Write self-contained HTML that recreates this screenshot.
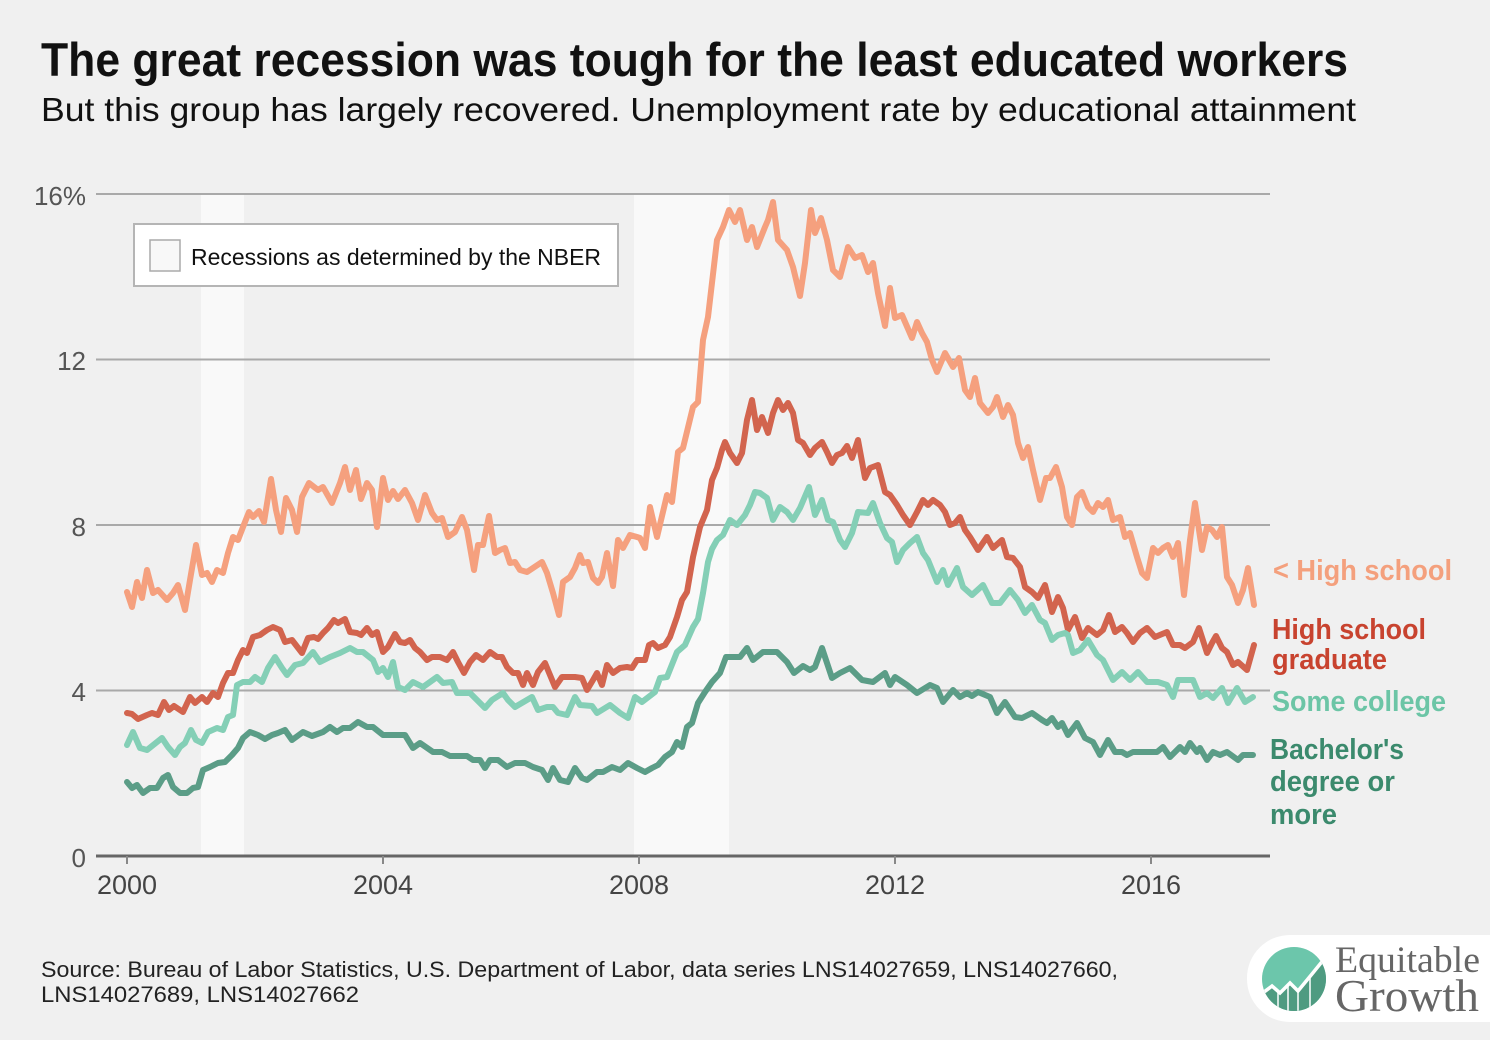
<!DOCTYPE html>
<html><head><meta charset="utf-8"><style>
html,body{margin:0;padding:0;background:#f0f0f0;}
svg{display:block;font-family:"Liberation Sans",sans-serif;}
</style></head><body>
<svg width="1490" height="1040" viewBox="0 0 1490 1040" xmlns="http://www.w3.org/2000/svg">
<rect width="1490" height="1040" fill="#f0f0f0"/>
<text x="41" y="76" font-size="47" font-weight="bold" fill="#111" textLength="1307" lengthAdjust="spacingAndGlyphs">The great recession was tough for the least educated workers</text>
<text x="41" y="121" font-size="33" fill="#111" textLength="1315" lengthAdjust="spacingAndGlyphs">But this group has largely recovered. Unemployment rate by educational attainment</text>
<!-- recession bands -->
<rect x="201" y="194" width="43" height="662" fill="#f9f9f9"/>
<rect x="634" y="194" width="95" height="662" fill="#f9f9f9"/>
<!-- gridlines -->
<g stroke="#a9a9a9" stroke-width="2">
<line x1="96" y1="194" x2="1270" y2="194"/>
<line x1="96" y1="359.5" x2="1270" y2="359.5"/>
<line x1="96" y1="525" x2="1270" y2="525"/>
<line x1="96" y1="690.5" x2="1270" y2="690.5"/>
</g>
<line x1="96" y1="856" x2="1270" y2="856" stroke="#666" stroke-width="3"/>
<g stroke="#888" stroke-width="2">
<line x1="127" y1="856" x2="127" y2="864"/>
<line x1="383" y1="856" x2="383" y2="864"/>
<line x1="639" y1="856" x2="639" y2="864"/>
<line x1="895" y1="856" x2="895" y2="864"/>
<line x1="1151" y1="856" x2="1151" y2="864"/>
</g>
<g font-size="26" fill="#555" text-anchor="end">
<text x="86" y="205">16%</text>
<text x="86" y="370">12</text>
<text x="86" y="536">8</text>
<text x="86" y="701">4</text>
<text x="86" y="867">0</text>
</g>
<g font-size="27" fill="#444" text-anchor="middle">
<text x="127" y="894">2000</text>
<text x="383" y="894">2004</text>
<text x="639" y="894">2008</text>
<text x="895" y="894">2012</text>
<text x="1151" y="894">2016</text>
</g>
<!-- legend -->
<rect x="134" y="224" width="484" height="62" fill="#fff" stroke="#b5b5b5" stroke-width="2"/>
<rect x="150" y="240" width="30" height="31" fill="#f8f8f8" stroke="#aaa" stroke-width="1.5"/>
<text x="191" y="265" font-size="23" fill="#111" textLength="410" lengthAdjust="spacingAndGlyphs">Recessions as determined by the NBER</text>
<!-- series -->
<g fill="none" stroke-width="6" stroke-linejoin="round" stroke-linecap="round">
<polyline stroke="#f5a07e" points="127,592 132,607 137,582 142,598 147,570 153,593 158,590 167,600 173,593 178,585 185,610 190,580 196,545 202,575 207,573 212,582 217,570 223,573 228,553 233,537 238,540 243,527 249,512 253,517 259,511 264,522 271,479 276,510 281,532 286,498 292,510 297,532 302,497 309,483 318,490 323,487 332,503 340,483 345,467 350,490 356,470 361,499 367,483 372,490 377,527 383,478 388,500 393,491 398,499 405,490 412,503 418,520 425,495 432,513 437,520 442,518 448,537 455,532 462,517 467,530 474,570 478,545 483,545 489,516 495,553 500,550 505,548 510,563 515,562 520,570 527,572 542,562 547,573 553,593 559,615 563,582 570,577 575,568 580,555 583,563 588,562 593,578 598,583 602,577 607,553 613,586 618,540 623,548 630,535 637,537 640,538 645,548 650,507 657,537 667,495 672,502 678,452 683,448 693,407 698,402 703,340 708,317 717,240 723,227 729,210 735,222 740,210 747,240 752,227 757,247 765,227 768,220 773,202 778,240 787,250 793,267 800,296 805,263 811,210 815,233 821,218 827,240 833,270 840,277 848,247 855,258 862,255 868,272 873,263 878,293 885,326 890,288 895,318 902,315 912,338 917,322 922,333 927,342 932,360 937,372 945,353 953,367 959,358 965,390 970,397 975,378 980,403 988,413 993,407 997,397 1003,417 1008,405 1013,415 1018,443 1023,458 1028,447 1033,470 1040,500 1046,478 1050,478 1056,467 1062,487 1067,517 1072,525 1077,497 1082,492 1088,507 1093,512 1098,503 1103,507 1108,500 1113,520 1120,517 1125,537 1130,533 1137,557 1142,573 1147,578 1153,548 1158,553 1163,548 1168,545 1173,557 1178,543 1184,595 1190,540 1195,503 1202,550 1207,527 1212,530 1217,537 1222,527 1227,577 1232,585 1238,603 1243,590 1248,568 1254,605"/>
<polyline stroke="#d2644e" points="127,713 132,714 138,719 147,715 152,713 158,715 164,702 169,710 174,706 183,712 190,697 195,703 202,697 207,702 213,693 218,697 223,683 228,673 233,673 238,660 243,650 247,653 253,637 260,635 267,630 273,627 280,630 285,642 292,640 302,653 308,638 314,637 318,639 323,633 328,628 334,620 338,623 345,619 350,632 357,633 361,635 367,628 372,635 377,632 383,652 388,647 395,634 400,642 405,643 410,640 415,648 420,652 427,660 432,657 440,657 447,660 453,652 458,662 464,673 470,662 476,655 483,660 490,652 497,657 502,657 507,667 513,673 518,673 523,685 527,673 533,685 538,672 545,663 550,675 555,687 562,677 575,677 582,678 587,690 593,680 597,673 602,685 607,665 613,673 620,668 627,667 632,668 637,660 645,660 649,645 653,643 658,648 665,645 670,637 677,617 682,600 687,592 693,557 700,527 707,510 712,480 717,468 722,450 725,442 730,453 737,463 742,453 747,420 752,400 757,430 762,417 768,433 773,413 778,400 783,410 788,403 793,413 798,440 803,443 810,455 815,448 822,442 827,452 832,463 837,455 842,453 847,446 852,458 858,440 865,478 870,468 878,465 885,492 890,495 897,505 903,515 910,525 917,512 923,500 928,505 933,500 940,505 945,512 950,525 955,523 960,517 965,530 970,537 978,550 987,537 993,548 1002,540 1007,557 1013,558 1020,567 1025,587 1032,592 1038,598 1045,585 1052,612 1058,597 1063,608 1068,630 1075,617 1082,638 1088,628 1097,635 1103,630 1109,615 1115,632 1122,627 1127,633 1133,642 1140,633 1147,628 1155,637 1167,632 1173,645 1180,645 1185,648 1193,642 1199,628 1207,653 1212,643 1216,636 1222,648 1227,652 1233,665 1238,662 1247,670 1254,645"/>
<polyline stroke="#84cfb6" points="127,745 133,732 140,748 147,750 162,738 168,747 175,755 180,747 185,743 191,730 196,740 202,743 208,732 217,728 223,730 228,717 233,715 237,685 243,682 250,682 255,677 262,682 268,668 275,657 282,668 287,675 295,665 303,663 313,652 320,662 330,657 340,653 350,648 357,652 363,652 373,660 378,672 383,668 388,677 393,662 398,687 405,690 413,682 423,687 437,677 443,683 452,682 457,693 470,693 477,700 485,708 492,700 503,693 508,700 515,707 532,697 538,710 547,707 553,707 558,713 567,715 575,697 580,705 592,706 597,713 610,705 620,713 628,718 635,697 642,702 655,692 660,678 667,677 677,652 685,645 693,627 698,619 703,593 708,562 712,549 717,540 723,535 730,520 737,525 745,515 750,505 755,492 760,493 767,498 773,520 780,507 787,512 793,520 800,508 809,487 815,515 822,500 828,520 833,522 840,540 845,547 852,533 858,512 868,513 873,503 880,523 887,538 892,542 897,562 903,550 910,543 917,537 923,553 928,560 937,582 943,570 948,585 957,568 963,587 972,595 983,585 992,603 1000,603 1010,590 1018,600 1025,613 1032,605 1040,620 1045,623 1052,640 1058,635 1065,633 1068,635 1073,653 1080,650 1088,640 1097,655 1103,660 1113,680 1122,672 1130,680 1138,672 1147,682 1158,682 1167,685 1173,697 1178,680 1193,680 1200,697 1207,693 1213,698 1222,688 1228,703 1237,688 1245,702 1253,697"/>
<polyline stroke="#5b9d87" points="127,782 132,788 137,785 143,793 150,788 157,788 163,778 168,775 173,787 180,793 187,793 193,788 198,787 203,770 210,767 218,763 225,762 232,755 238,748 243,738 250,732 258,735 265,739 272,735 278,733 285,730 292,740 303,732 312,736 323,732 330,727 337,732 343,728 350,728 358,722 367,727 373,727 383,735 402,735 405,735 413,748 420,743 433,752 442,752 450,756 467,756 473,760 480,760 485,768 490,760 498,760 507,767 515,763 525,763 533,767 542,770 548,780 553,768 560,780 568,782 575,768 582,778 587,780 597,772 603,772 612,767 620,770 628,763 637,768 645,772 652,768 658,765 665,757 672,752 677,742 682,747 687,727 692,723 698,703 705,692 712,682 720,673 726,657 740,657 747,648 753,660 763,652 777,652 787,662 794,673 803,666 810,670 815,667 822,648 832,678 840,673 850,668 862,680 873,682 885,673 890,685 895,677 907,685 917,693 930,685 937,688 943,702 953,690 960,697 967,693 972,696 978,692 990,697 997,713 1005,702 1015,717 1022,718 1032,713 1042,720 1047,723 1052,718 1058,727 1062,723 1068,735 1077,723 1085,738 1093,742 1100,755 1108,740 1115,752 1122,752 1127,755 1133,752 1157,752 1163,747 1170,757 1180,747 1185,752 1190,743 1197,752 1200,748 1207,760 1213,752 1220,755 1227,752 1238,760 1243,755 1253,755"/>
</g>
<!-- series labels -->
<g font-size="29" font-weight="bold">
<text x="1273" y="580" fill="#f4a07d" textLength="179" lengthAdjust="spacingAndGlyphs">&lt; High school</text>
<text x="1272" y="639" fill="#c8432f" textLength="154" lengthAdjust="spacingAndGlyphs">High school</text>
<text x="1272" y="669" fill="#c8432f" textLength="115" lengthAdjust="spacingAndGlyphs">graduate</text>
<text x="1272" y="711" fill="#6cc5a6" textLength="174" lengthAdjust="spacingAndGlyphs">Some college</text>
<text x="1270" y="759" fill="#3b8a6d" textLength="134" lengthAdjust="spacingAndGlyphs">Bachelor's</text>
<text x="1270" y="791" fill="#3b8a6d" textLength="125" lengthAdjust="spacingAndGlyphs">degree or</text>
<text x="1270" y="824" fill="#3b8a6d" textLength="67" lengthAdjust="spacingAndGlyphs">more</text>
</g>
<!-- source -->
<g font-size="22" fill="#222">
<text x="41" y="977" textLength="1077" lengthAdjust="spacingAndGlyphs">Source: Bureau of Labor Statistics, U.S. Department of Labor, data series LNS14027659, LNS14027660,</text>
<text x="41" y="1002" textLength="318" lengthAdjust="spacingAndGlyphs">LNS14027689, LNS14027662</text>
</g>
<!-- logo -->
<rect x="1247" y="935" width="300" height="87" rx="43" fill="#fff"/>
<defs><clipPath id="lc"><circle cx="1294" cy="979" r="32"/></clipPath></defs>
<g clip-path="url(#lc)">
<rect x="1260" y="945" width="70" height="70" fill="#6cc6ab"/>
<polygon points="1260,995 1272,986 1280,993 1290,983 1298,991 1312,974 1325,958 1330,958 1330,1015 1260,1015" fill="#4f9b81"/>
<polyline points="1260,995 1272,986 1280,993 1290,983 1298,991 1312,974 1325,958" fill="none" stroke="#fff" stroke-width="3.5"/>
<g stroke="#fff" stroke-width="1.5">
<line x1="1278" y1="991" x2="1278" y2="1015"/>
<line x1="1288" y1="985" x2="1288" y2="1015"/>
<line x1="1298" y1="991" x2="1298" y2="1015"/>
<line x1="1310" y1="977" x2="1310" y2="1015"/>
</g>
</g>
<g font-family="'Liberation Serif',serif" fill="#666">
<text x="1335" y="972" font-size="37" textLength="145" lengthAdjust="spacingAndGlyphs">Equitable</text>
<text x="1335" y="1011" font-size="45" textLength="144" lengthAdjust="spacingAndGlyphs">Growth</text>
</g>
</svg>
</body></html>
